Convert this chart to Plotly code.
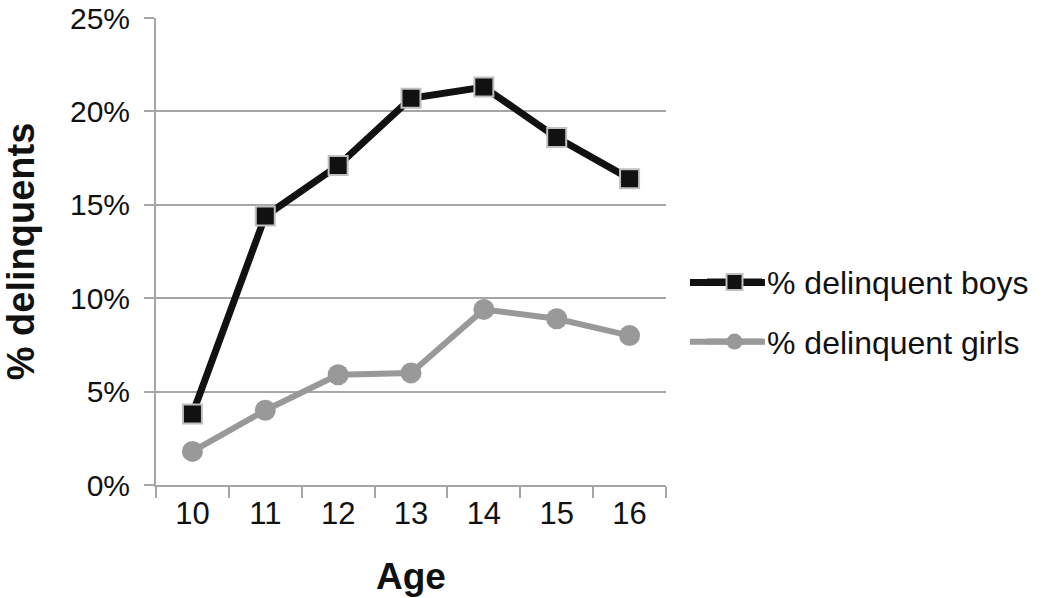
import plotly.graph_objects as go

ages = ["10", "11", "12", "13", "14", "15", "16"]
boys = [3.8, 14.4, 17.1, 20.7, 21.3, 18.6, 16.4]
girls = [1.8, 4.0, 5.9, 6.0, 9.4, 8.9, 8.0]
y_ticks = [0, 5, 10, 15, 20, 25]
y_tick_labels = ["0%", "5%", "10%", "15%", "20%", "25%"]

FONT = "Liberation Sans, Arial, Helvetica, sans-serif"
GRID = "#a6a6a6"
INK = "#111111"
BOY_COL = INK
GIRL_COL = "#999999"

fig = go.Figure()
fig.add_trace(go.Scatter(
    x=ages, y=boys, name="% delinquent boys", mode="lines+markers",
    legendgroup="boys",
    line=dict(color=BOY_COL, width=7),
    marker=dict(symbol="square", size=19, color=BOY_COL,
                line=dict(color="#c0c0c0", width=2)),
))
fig.add_trace(go.Scatter(
    x=ages, y=girls, name="% delinquent girls", mode="lines+markers",
    legendgroup="girls",
    line=dict(color=GIRL_COL, width=6),
    marker=dict(symbol="circle", size=21, color=GIRL_COL),
))

# lengthen the legend key lines (the legend's own key line is short)
LEG_X0, LEG_X1 = 1.047, 1.194
LEG_ROWS = [(0.4335, BOY_COL, 7), (0.307, GIRL_COL, 6)]
shapes = [dict(type="line", xref="paper", yref="paper", x0=LEG_X0, x1=LEG_X1,
               y0=yy, y1=yy, line=dict(color=c, width=w), layer="below")
          for yy, c, w in LEG_ROWS]

fig.update_layout(
    width=1050, height=598,
    margin=dict(l=156, r=384, t=18, b=113, autoexpand=False),
    paper_bgcolor="white", plot_bgcolor="white",
    font=dict(family=FONT, size=30, color=INK),
    showlegend=True,
    legend=dict(x=1.0706, xanchor="left", y=0.370, yanchor="middle",
                font=dict(size=32, family=FONT, color=INK),
                tracegroupgap=15, itemwidth=55, bgcolor="rgba(0,0,0,0)"),
    shapes=shapes,
)
fig.update_xaxes(
    type="category", range=[-0.5, 6.5], tickson="boundaries",
    ticks="outside", ticklen=11, tickcolor=GRID, tickwidth=2,
    showline=True, linecolor=GRID, linewidth=2,
    showgrid=False, zeroline=False, automargin=False,
    tickfont=dict(size=31, family=FONT, color=INK),
    title=dict(text="<b>Age</b>", font=dict(size=37, family=FONT, color=INK), standoff=33),
)
fig.update_yaxes(
    range=[0, 25], tickvals=y_ticks, ticktext=y_tick_labels,
    ticks="outside", ticklen=10, tickcolor=GRID, tickwidth=2,
    showline=True, linecolor=GRID, linewidth=2,
    showgrid=True, gridcolor=GRID, gridwidth=2, zeroline=False, automargin=False,
    ticklabeloverflow="allow", ticklabelstandoff=8,
    tickfont=dict(size=30, family=FONT, color=INK),
    title=dict(text="<b>% delinquents</b>", font=dict(size=38, family=FONT, color=INK), standoff=26),
)

fig.write_html("out.html", config={"displayModeBar": False},
               post_script="document.body.style.margin='0';")
